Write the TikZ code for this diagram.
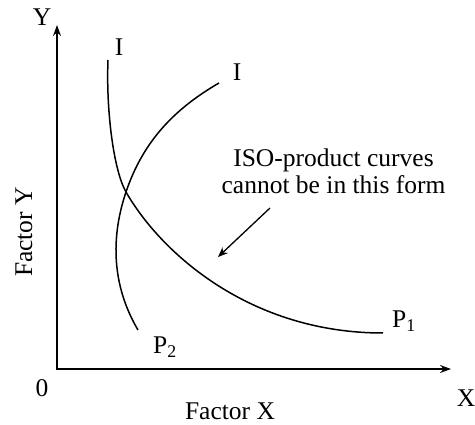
\documentclass[tikz,border=0pt]{standalone}
\usepackage{fontspec}
\setmainfont{Liberation Serif}
\usetikzlibrary{arrows.meta}

\begin{document}
\begin{tikzpicture}[
    x=1pt, y=-1pt,
    >={Stealth[length=11pt, width=8pt]},
    axis/.style={
        <->, line width=1.5pt, black
    },
    isocurve/.style={
        line width=1.5pt, black
    },
    label/.style={
        font=\fontsize{25.5}{27}\selectfont, inner sep=0pt
    },
    arrow/.style={
        ->, line width=1.3pt, >={Stealth[length=10pt, width=8pt]}
    }
]
\useasboundingbox (0,0) rectangle (475,425);

% ── Axes ──
\coordinate (origin) at (57,369);
\coordinate (ytip) at (57,25);
\coordinate (xtip) at (451,369);
\draw[axis] (ytip) -- (origin) -- (xtip);

\node[label] (ylab) at (42,17) {Y};
\node[label] (xlab) at (466,398) {X};
\node[label] (zero) at (42,388) {0};
\node[label] (factorx) at (230,411) {Factor X};
\node[label, rotate=90] (factory) at (24,232) {Factor Y};

% ── Curve P1 ──
\coordinate (cross) at (126,192);
\draw[isocurve] (108,60) .. controls (106,110) and (113.5,170) .. (cross)
    .. controls (161,253) and (250,333) .. (383,333);
\node[label] (ione) at (119,47) {I};
\node[label] (pone) at (404,321) {P\textsubscript{1}};

% ── Curve P2 ──
\draw[isocurve] (219,83) .. controls (176,108) and (143.6,139.8) .. (cross)
    .. controls (108.4,244.3) and (115,291) .. (138,330);
\node[label] (itwo) at (237,72) {I};
\node[label] (ptwo) at (165,347) {P\textsubscript{2}};

% ── Note ──
\node[label, align=center] (note) at (333.5,171)
    {ISO-product curves\\cannot be in this form};
\coordinate (notetail) at (270,208);
\coordinate (notehead) at (218,257);
\draw[arrow] (notetail) -- (notehead);

\end{tikzpicture}
\end{document}
